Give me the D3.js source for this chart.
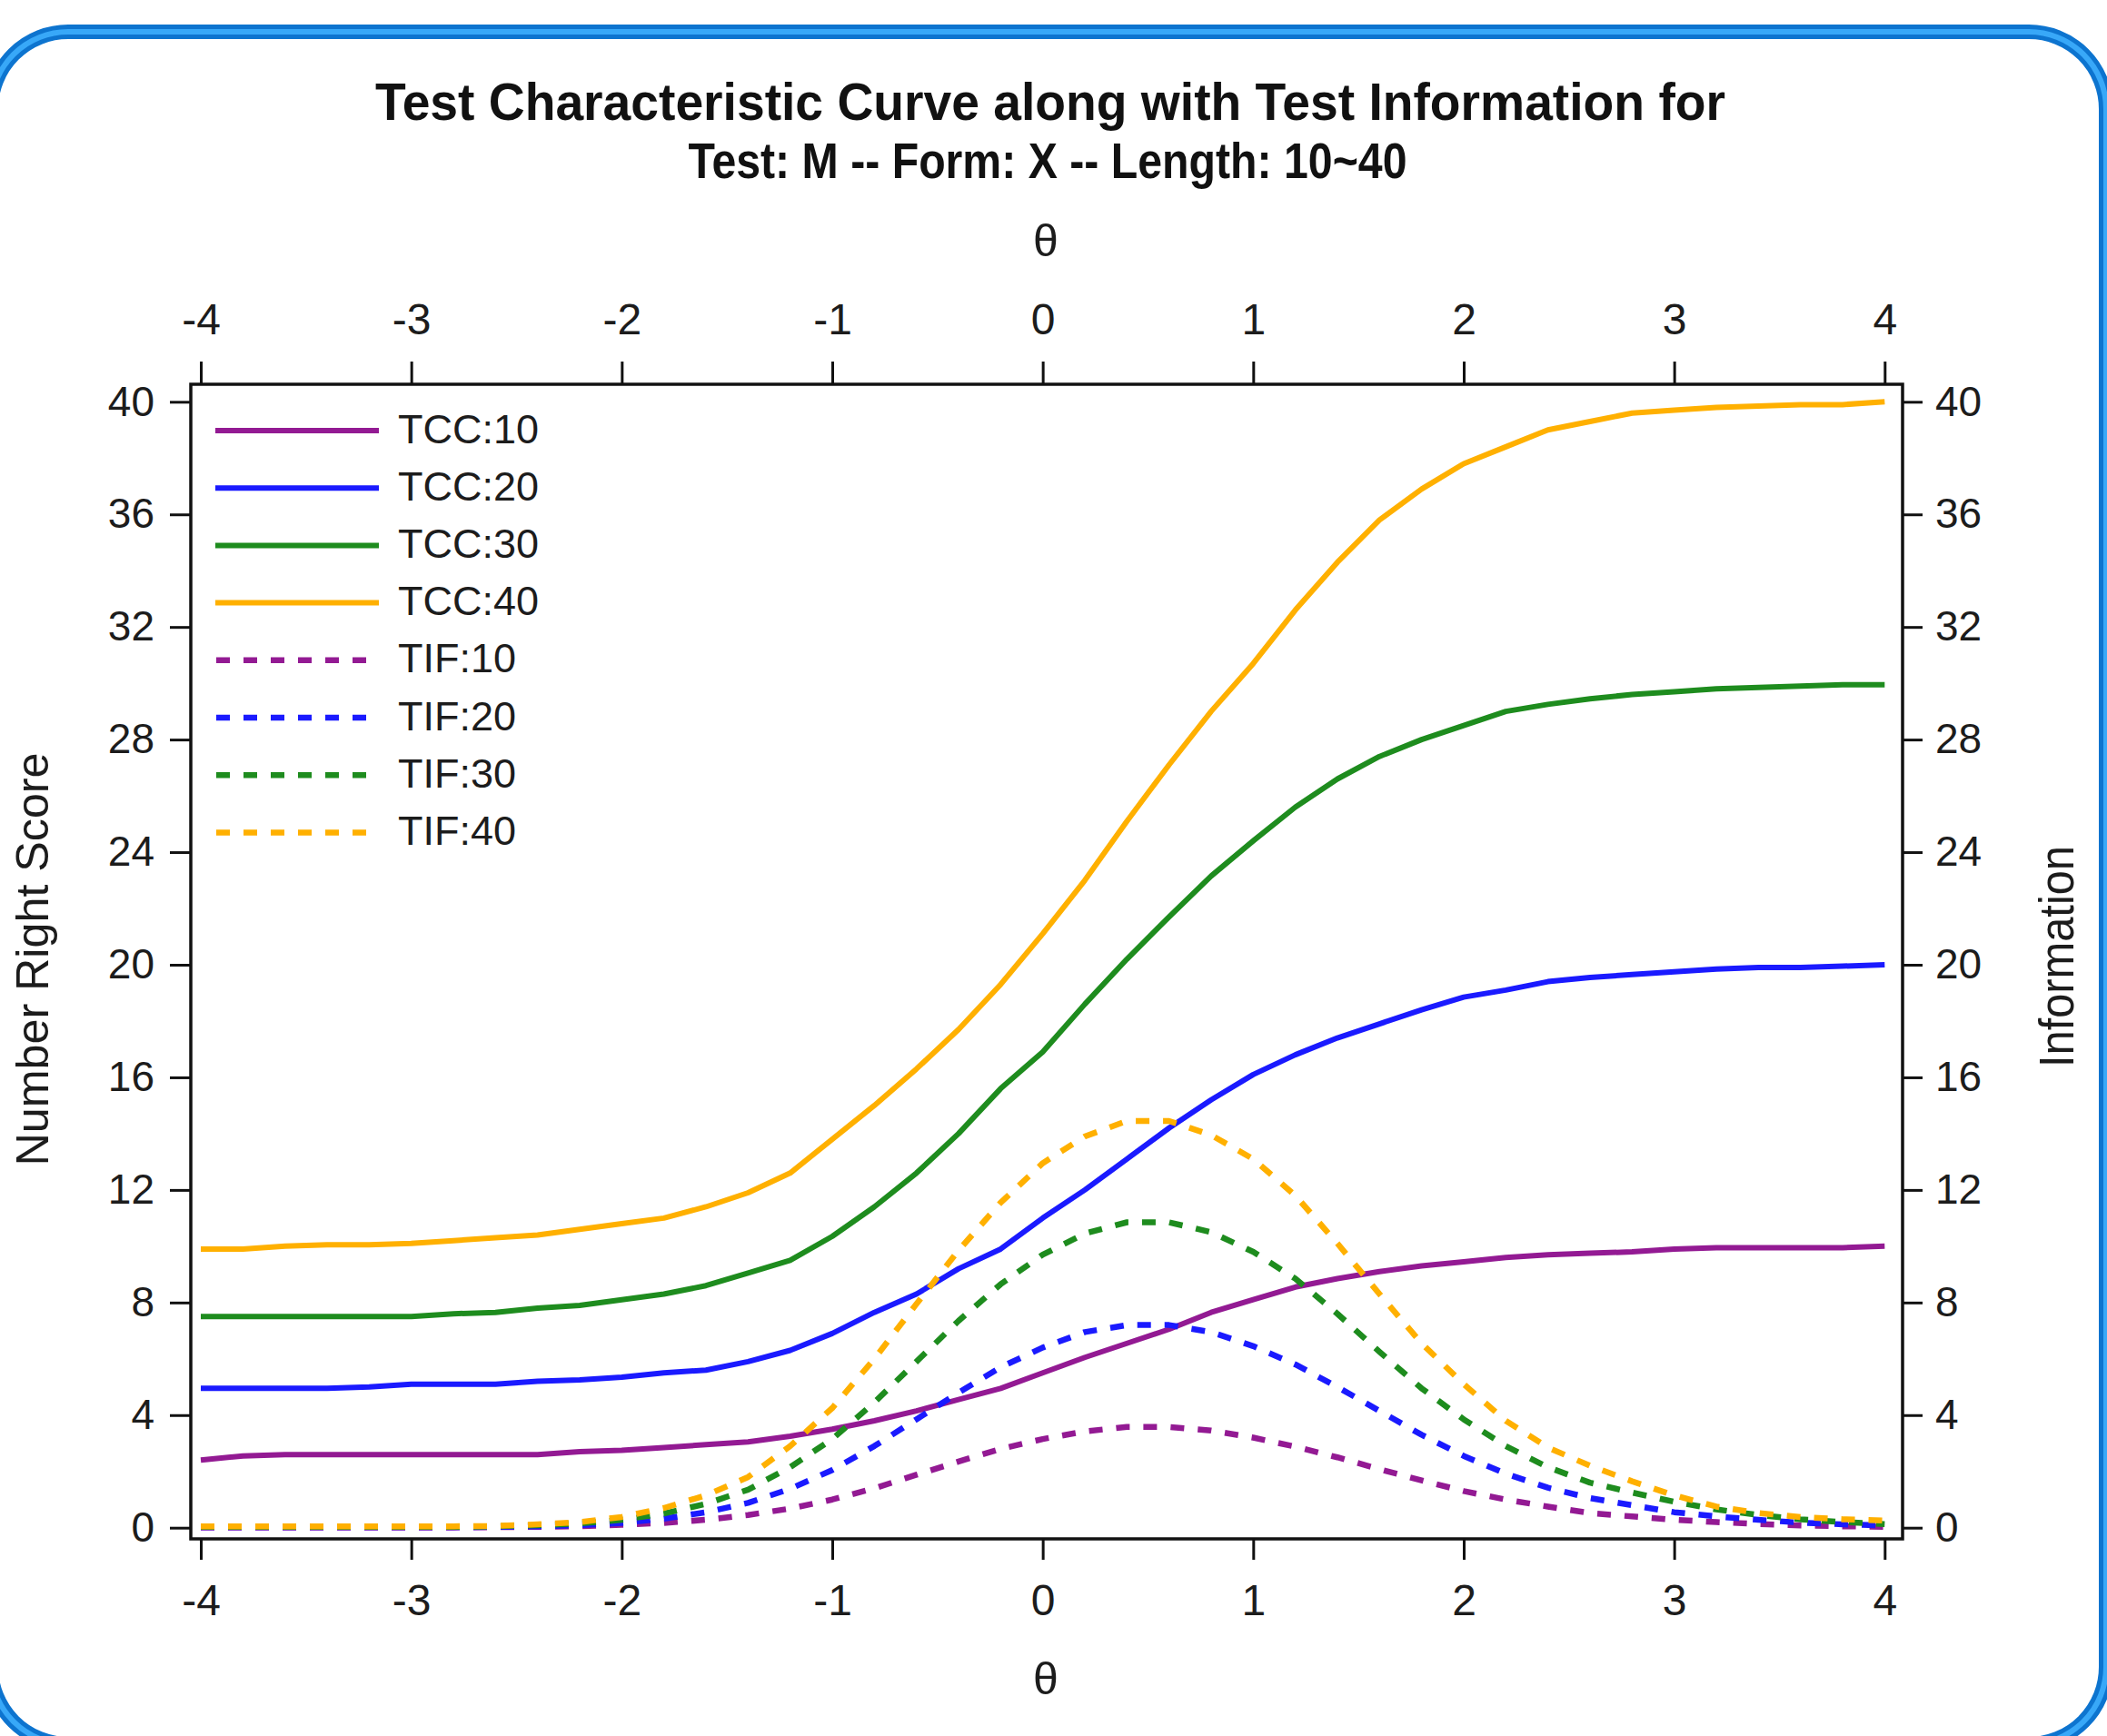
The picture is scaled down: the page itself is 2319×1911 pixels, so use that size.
<!DOCTYPE html>
<html>
<head>
<meta charset="utf-8">
<script src="https://cdn.jsdelivr.net/npm/d3@7"></script>
<style>
  body { margin: 0; background: #fff; }
  svg { display: block; }
</style>
</head>
<body>
<div id="chart"></div>
<script>
// theta grid and curve values
var theta = [-4, -3.8, -3.6, -3.4, -3.2, -3, -2.8, -2.6, -2.4, -2.2, -2, -1.8, -1.6, -1.4, -1.2, -1, -0.8, -0.6, -0.4, -0.2,
  0, 0.2, 0.4, 0.6, 0.8, 1, 1.2, 1.4, 1.6, 1.8, 2, 2.2, 2.4, 2.6, 2.8, 3, 3.2, 3.4, 3.6, 3.8, 4];

var tcc10 = [2.4, 2.55, 2.6, 2.6, 2.6, 2.6, 2.6, 2.6, 2.6, 2.7, 2.75, 2.85, 2.95, 3.05, 3.25, 3.5, 3.8, 4.15, 4.55, 4.95,
  5.5, 6.05, 6.55, 7.05, 7.65, 8.1, 8.55, 8.85, 9.1, 9.3, 9.45, 9.6, 9.7, 9.75, 9.8, 9.9, 9.95, 9.95, 9.95, 9.95, 10.0];
var tcc20 = [4.95, 4.95, 4.95, 4.95, 5.0, 5.1, 5.1, 5.1, 5.2, 5.25, 5.35, 5.5, 5.6, 5.9, 6.3, 6.9, 7.65, 8.3, 9.2, 9.9,
  11.0, 12.0, 13.1, 14.2, 15.2, 16.1, 16.8, 17.4, 17.9, 18.4, 18.85, 19.1, 19.4, 19.55, 19.65, 19.75, 19.85, 19.9, 19.9, 19.95, 20.0];
var tcc30 = [7.5, 7.5, 7.5, 7.5, 7.5, 7.5, 7.6, 7.65, 7.8, 7.9, 8.1, 8.3, 8.6, 9.05, 9.5, 10.35, 11.4, 12.6, 14.0, 15.6,
  16.9, 18.6, 20.2, 21.7, 23.15, 24.4, 25.6, 26.6, 27.4, 28.0, 28.5, 29.0, 29.25, 29.45, 29.6, 29.7, 29.8, 29.85, 29.9, 29.95, 29.95];
var tcc40 = [9.9, 9.9, 10.0, 10.05, 10.05, 10.1, 10.2, 10.3, 10.4, 10.6, 10.8, 11.0, 11.4, 11.9, 12.6, 13.8, 15.0, 16.3, 17.7, 19.3,
  21.1, 23.0, 25.1, 27.1, 29.0, 30.7, 32.6, 34.3, 35.8, 36.9, 37.8, 38.4, 39.0, 39.3, 39.6, 39.7, 39.8, 39.85, 39.9, 39.9, 40.0];

var tif10 = [0.01, 0.01, 0.01, 0.01, 0.01, 0.01, 0.01, 0.02, 0.03, 0.05, 0.1, 0.17, 0.28, 0.45, 0.68, 1.0, 1.4, 1.88, 2.35, 2.8,
  3.15, 3.42, 3.58, 3.58, 3.45, 3.2, 2.88, 2.5, 2.08, 1.68, 1.3, 1.0, 0.75, 0.52, 0.4, 0.28, 0.2, 0.13, 0.08, 0.05, 0.03];
var tif20 = [0.02, 0.02, 0.02, 0.02, 0.02, 0.02, 0.02, 0.03, 0.05, 0.09, 0.17, 0.32, 0.55, 0.88, 1.38, 2.05, 2.9, 3.85, 4.8, 5.7,
  6.4, 6.95, 7.2, 7.2, 6.95, 6.45, 5.8, 5.0, 4.15, 3.3, 2.55, 1.92, 1.42, 1.05, 0.8, 0.55, 0.4, 0.28, 0.18, 0.12, 0.08];
var tif30 = [0.03, 0.03, 0.03, 0.03, 0.03, 0.03, 0.03, 0.05, 0.09, 0.15, 0.28, 0.5, 0.85, 1.35, 2.15, 3.15, 4.45, 5.9, 7.35, 8.65,
  9.7, 10.45, 10.85, 10.85, 10.5, 9.8, 8.85, 7.6, 6.25, 4.95, 3.85, 2.9, 2.15, 1.6, 1.25, 0.92, 0.65, 0.45, 0.3, 0.2, 0.13];
var tif40 = [0.05, 0.05, 0.05, 0.05, 0.05, 0.05, 0.05, 0.06, 0.12, 0.2, 0.38, 0.7, 1.15, 1.8, 2.9, 4.25, 6.0, 7.95, 9.85, 11.55,
  12.95, 13.9, 14.45, 14.45, 13.95, 13.1, 11.8, 10.1, 8.3, 6.55, 5.1, 3.8, 2.85, 2.2, 1.65, 1.15, 0.75, 0.52, 0.38, 0.3, 0.25];

var seriesNames = ["TCC:10", "TCC:20", "TCC:30", "TCC:40", "TIF:10", "TIF:20", "TIF:30", "TIF:40"];
var seriesValues = [tcc10, tcc20, tcc30, tcc40, tif10, tif20, tif30, tif40];
var seriesColors = ["#931a93", "#1a1aff", "#1e8c1e", "#ffb000", "#931a93", "#1a1aff", "#1e8c1e", "#ffb000"];
var seriesDashed = [false, false, false, false, true, true, true, true];

var xTicks = [-4, -3, -2, -1, 0, 1, 2, 3, 4];
var yTicks = [0, 4, 8, 12, 16, 20, 24, 28, 32, 36, 40];

// sizes
var svgWidth = 2319;
var svgHeight = 1911;
var frame = { left: 210, right: 2094, top: 423, bottom: 1694 };
var font = "'Liberation Sans', Arial, sans-serif";
var narrow = "'Liberation Sans Narrow', 'Liberation Sans', Arial, sans-serif";
var textColor = "#1c1c1c";

var svg = d3.select("#chart")
  .append("svg")
  .attr("width", svgWidth)
  .attr("height", svgHeight);

// rounded blue border (mostly running off the page edges)
svg.append("rect")
  .attr("x", -10).attr("y", 35)
  .attr("width", 2328).attr("height", 1885)
  .attr("rx", 85).attr("ry", 85)
  .attr("fill", "#fff")
  .attr("stroke", "#0d74cf")
  .attr("stroke-width", 16);
svg.append("rect")
  .attr("x", -10).attr("y", 35)
  .attr("width", 2328).attr("height", 1885)
  .attr("rx", 85).attr("ry", 85)
  .attr("fill", "none")
  .attr("stroke", "#38a8f8")
  .attr("stroke-width", 6);

// scales
var xScale = d3.scaleLinear().domain([-4, 4]).range([221, 2074.3]);
var yScale = d3.scaleLinear().domain([0, 40]).range([1681.7, 442.3]);

// titles
svg.append("text")
  .attr("x", 1156).attr("y", 132)
  .attr("text-anchor", "middle")
  .attr("font-family", narrow).attr("font-weight", "bold").attr("font-size", 58)
  .attr("textLength", 1486).attr("lengthAdjust", "spacingAndGlyphs")
  .attr("fill", "#111")
  .text("Test Characteristic Curve along with Test Information for");

svg.append("text")
  .attr("x", 1153).attr("y", 196)
  .attr("text-anchor", "middle")
  .attr("font-family", narrow).attr("font-weight", "bold").attr("font-size", 55)
  .attr("textLength", 791).attr("lengthAdjust", "spacingAndGlyphs")
  .attr("fill", "#111")
  .text("Test: M -- Form: X -- Length: 10~40");

// axes
function styleAxis(g) {
  g.select(".domain").remove();
  g.selectAll(".tick line").attr("stroke", "#111").attr("stroke-width", 3);
  g.selectAll(".tick text").attr("fill", textColor).attr("font-size", 48);
}

// plain hyphen for negatives, like the original
var plain = d => String(d);

var bottomAxis = svg.append("g")
  .attr("transform", `translate(0, ${frame.bottom})`)
  .call(d3.axisBottom(xScale).tickValues(xTicks).tickSize(23).tickFormat(plain));
styleAxis(bottomAxis);
bottomAxis.selectAll(".tick text").attr("y", 84).attr("dy", null).attr("font-family", narrow);

var topAxis = svg.append("g")
  .attr("transform", `translate(0, ${frame.top})`)
  .call(d3.axisTop(xScale).tickValues(xTicks).tickSize(25).tickFormat(plain));
styleAxis(topAxis);
topAxis.selectAll(".tick text").attr("y", -55).attr("dy", null).attr("font-family", narrow);

var leftAxis = svg.append("g")
  .attr("transform", `translate(${frame.left}, 0)`)
  .call(d3.axisLeft(yScale).tickValues(yTicks).tickSize(23).tickFormat(plain));
styleAxis(leftAxis);
leftAxis.selectAll(".tick text").attr("x", -40).attr("font-family", font).attr("font-size", 46);

var rightAxis = svg.append("g")
  .attr("transform", `translate(${frame.right}, 0)`)
  .call(d3.axisRight(yScale).tickValues(yTicks).tickSize(22).tickFormat(plain));
styleAxis(rightAxis);
rightAxis.selectAll(".tick text").attr("x", 36).attr("font-family", font).attr("font-size", 46);

// plot frame
svg.append("rect")
  .attr("x", frame.left).attr("y", frame.top)
  .attr("width", frame.right - frame.left).attr("height", frame.bottom - frame.top)
  .attr("fill", "none").attr("stroke", "#111").attr("stroke-width", 3.5);

// axis labels
svg.append("text")
  .attr("x", 1151).attr("y", 282)
  .attr("text-anchor", "middle")
  .attr("font-family", font).attr("font-size", 50).attr("fill", textColor)
  .text("θ");

svg.append("text")
  .attr("x", 1151).attr("y", 1865)
  .attr("text-anchor", "middle")
  .attr("font-family", font).attr("font-size", 50).attr("fill", textColor)
  .text("θ");

svg.append("text")
  .attr("transform", "translate(53, 1056) rotate(-90)")
  .attr("text-anchor", "middle")
  .attr("font-family", font).attr("font-size", 50).attr("fill", textColor)
  .attr("textLength", 455).attr("lengthAdjust", "spacingAndGlyphs")
  .text("Number Right Score");

svg.append("text")
  .attr("transform", "translate(2282, 1053) rotate(-90)")
  .attr("text-anchor", "middle")
  .attr("font-family", narrow).attr("font-size", 54).attr("fill", textColor)
  .attr("textLength", 244).attr("lengthAdjust", "spacingAndGlyphs")
  .text("Information");

// curves
var line = d3.line()
  .x((d, i) => xScale(theta[i]))
  .y(d => yScale(d));

var curves = svg.append("g");
seriesValues.forEach(function(vals, i) {
  curves.append("path")
    .attr("d", line(vals))
    .attr("fill", "none")
    .attr("stroke", seriesColors[i])
    .attr("stroke-width", seriesDashed[i] ? 6.5 : 6)
    .attr("stroke-linejoin", "round")
    .attr("stroke-dasharray", seriesDashed[i] ? "15,15" : null);
});

// legend
var legend = svg.append("g");
seriesNames.forEach(function(name, i) {
  var y = 474 + i * 63.2;
  legend.append("line")
    .attr("x1", seriesDashed[i] ? 238 : 237)
    .attr("x2", seriesDashed[i] ? 403 : 417)
    .attr("y1", y).attr("y2", y)
    .attr("stroke", seriesColors[i])
    .attr("stroke-width", seriesDashed[i] ? 6.5 : 6)
    .attr("stroke-dasharray", seriesDashed[i] ? "15,15" : null);
  legend.append("text")
    .attr("x", 438).attr("y", y)
    .attr("dy", "0.3em")
    .attr("font-family", font).attr("font-size", 45).attr("fill", textColor)
    .text(name);
});
</script>
</body>
</html>
